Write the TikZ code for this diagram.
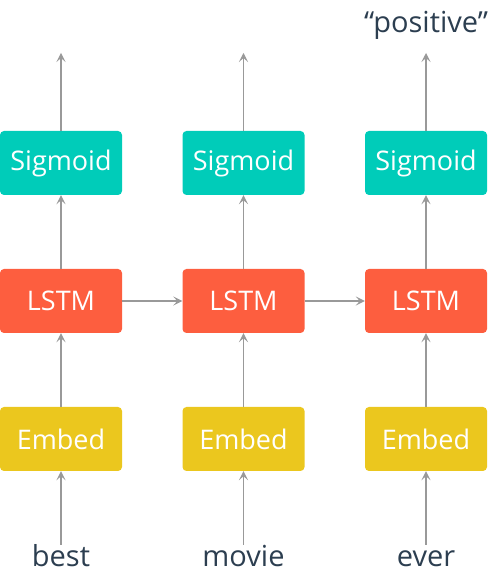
\documentclass[tikz,border=0pt]{standalone}
\usepackage{fontspec}
\setmainfont{Open Sans}
\usetikzlibrary{positioning,arrows.meta}

\definecolor{sigcol}{HTML}{00CCB9}
\definecolor{lstmcol}{HTML}{FD5E3F}
\definecolor{embcol}{HTML}{EBC71E}
\definecolor{wordcol}{HTML}{2C3E50}
\definecolor{linecol}{HTML}{999999}

\begin{document}
\begin{tikzpicture}[node distance=138pt,on grid,
    box/.style={rounded corners=4pt,minimum width=122pt,minimum height=64pt,
      text=white,font=\fontsize{27}{32}\selectfont},
    word/.style={text=wordcol,font=\fontsize{29}{34}\selectfont,inner sep=0pt,
      text height=22pt,text depth=7pt},
    link/.style={-{Stealth[length=9pt,width=9pt,inset=4pt]},linecol,line width=1.8pt}]
   \useasboundingbox (0,0) rectangle (489pt,578pt);
   % embedding row
   \node[box,fill=embcol] (emb1) at (61pt,139pt) {Embed};
   \node[box,fill=embcol] (emb2) [right=182.5pt of emb1] {Embed};
   \node[box,fill=embcol] (emb3) [right=182.5pt of emb2] {Embed};
   % lstm row
   \node[box,fill=lstmcol] (lstm1) [above=of emb1] {LSTM};
   \node[box,fill=lstmcol] (lstm2) [above=of emb2] {LSTM};
   \node[box,fill=lstmcol] (lstm3) [above=of emb3] {LSTM};
   % sigmoid row
   \node[box,fill=sigcol] (sig1) [above=of lstm1] {Sigmoid};
   \node[box,fill=sigcol] (sig2) [above=of lstm2] {Sigmoid};
   \node[box,fill=sigcol] (sig3) [above=of lstm3] {Sigmoid};
   % inputs and outputs
   \node[word] (w1) [below=120.5pt of emb1] {best};
   \node[word] (w2) [below=120.5pt of emb2] {movie};
   \node[word] (w3) [below=120.5pt of emb3] {ever};
   \coordinate[above=110pt of sig1] (out1);
   \coordinate[above=110pt of sig2] (out2);
   \coordinate[above=110pt of sig3] (out3);
   \node[word] (pos) [above=137.5pt of sig3] {“positive”};

   \foreach \i in {1,2,3} {
     \draw[link] (w\i) -- (emb\i);
     \draw[link] (emb\i) -- (lstm\i);
     \draw[link] (lstm\i) -- (sig\i);
     \draw[link] (sig\i) -- (out\i);
   }
   \draw[link] (lstm1) -- (lstm2);
   \draw[link] (lstm2) -- (lstm3);
\end{tikzpicture}
\end{document}
